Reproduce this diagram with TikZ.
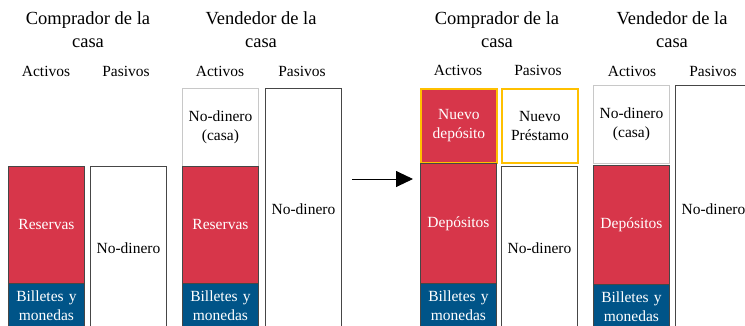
\documentclass[tikz,border=0pt]{standalone}
\usepackage{fontspec}
\setmainfont{Liberation Serif}
\usetikzlibrary{arrows.meta}
\definecolor{bred}{RGB}{215,54,74}
\definecolor{bblue}{RGB}{0,84,136}
\definecolor{byellow}{RGB}{255,192,0}
\definecolor{bdark}{RGB}{70,70,70}
\definecolor{blight}{RGB}{200,200,200}
\begin{document}
\begin{tikzpicture}[x=1pt,y=-1pt,
  blk/.style={rectangle, inner sep=0pt, anchor=north west, minimum width=76pt,
    text width=72pt, align=center, font=\fontsize{15.5}{19}\selectfont, line width=0.9pt},
  redbox/.style={blk, fill=bred, draw=bdark, text=white},
  bluebox/.style={blk, fill=bblue, draw=bdark, text=white},
  whitebox/.style={blk, fill=white, draw=bdark},
  lightbox/.style={blk, fill=white, draw=blight},
  newbox/.style={blk, draw=byellow, line width=1.8pt},
  head/.style={align=center, font=\fontsize{18.5}{23}\selectfont, inner sep=0pt},
  sub/.style={font=\fontsize{15.5}{19}\selectfont, inner sep=0pt}
]
\useasboundingbox (0,0) rectangle (745,325);
\clip (0,0) rectangle (745,325);
% ---- headers left
\node[head] (hc1) at (88,30) {Comprador de la\\casa};
\node[head] (hv1) at (261,30) {Vendedor de la\\casa};
\node[sub] (a1) at (46,71) {Activos};
\node[sub] (p1) at (126,71) {Pasivos};
\node[sub] (a2) at (220,71) {Activos};
\node[sub] (p2) at (302,71) {Pasivos};
% ---- headers right
\node[head] (hc2) at (497,30) {Comprador de la\\casa};
\node[head] (hv2) at (672,30) {Vendedor de la\\casa};
\node[sub] (a3) at (458,70) {Activos};
\node[sub] (p3) at (538,70) {Pasivos};
\node[sub] (a4) at (632,71) {Activos};
\node[sub] (p4) at (713,71) {Pasivos};
% ---- left buyer
\node[redbox, minimum height=117pt] (res1) at (8,166) {Reservas};
\node[bluebox, minimum height=45pt] (bil1) at (8,283) {Billetes y\\monedas};
\node[whitebox, minimum height=163pt] (nd1) at (90,166) {No-dinero};
% ---- left seller
\node[lightbox, minimum height=78pt] (casa1) at (182,88) {No-dinero\\(casa)};
\node[redbox, minimum height=117pt] (res2) at (182,166) {Reservas};
\node[bluebox, minimum height=45pt] (bil2) at (182,283) {Billetes y\\monedas};
\node[whitebox, minimum height=242pt] (nd2) at (265,88) {No-dinero};
% ---- arrow
\coordinate (ar1) at (352,179);
\coordinate (ar2) at (413,179);
\draw[line width=0.9pt, -{Triangle[length=17pt,width=16pt]}] (ar1) -- (ar2);
% ---- right buyer
\node[newbox, fill=bred, text=white, minimum height=74pt] (nuevo) at (420,88) {Nuevo\\depósito};
\node[redbox, minimum height=120pt] (dep1) at (420,163) {Depósitos};
\node[bluebox, minimum height=45pt] (bil3) at (420,283) {Billetes y\\monedas};
\node[newbox, fill=white, minimum height=74pt] (prest) at (501,88) {Nuevo\\Préstamo};
\node[whitebox, minimum height=163pt] (nd3) at (501,166) {No-dinero};
% ---- right seller
\node[lightbox, minimum height=78pt] (casa2) at (593,85) {No-dinero\\(casa)};
\node[redbox, minimum height=119pt] (dep2) at (593,165) {Depósitos};
\node[bluebox, minimum height=44pt] (bil4) at (593,284) {Billetes y\\monedas};
\node[whitebox, minimum height=247pt] (nd4) at (675,85) {No-dinero};
\end{tikzpicture}
\end{document}
